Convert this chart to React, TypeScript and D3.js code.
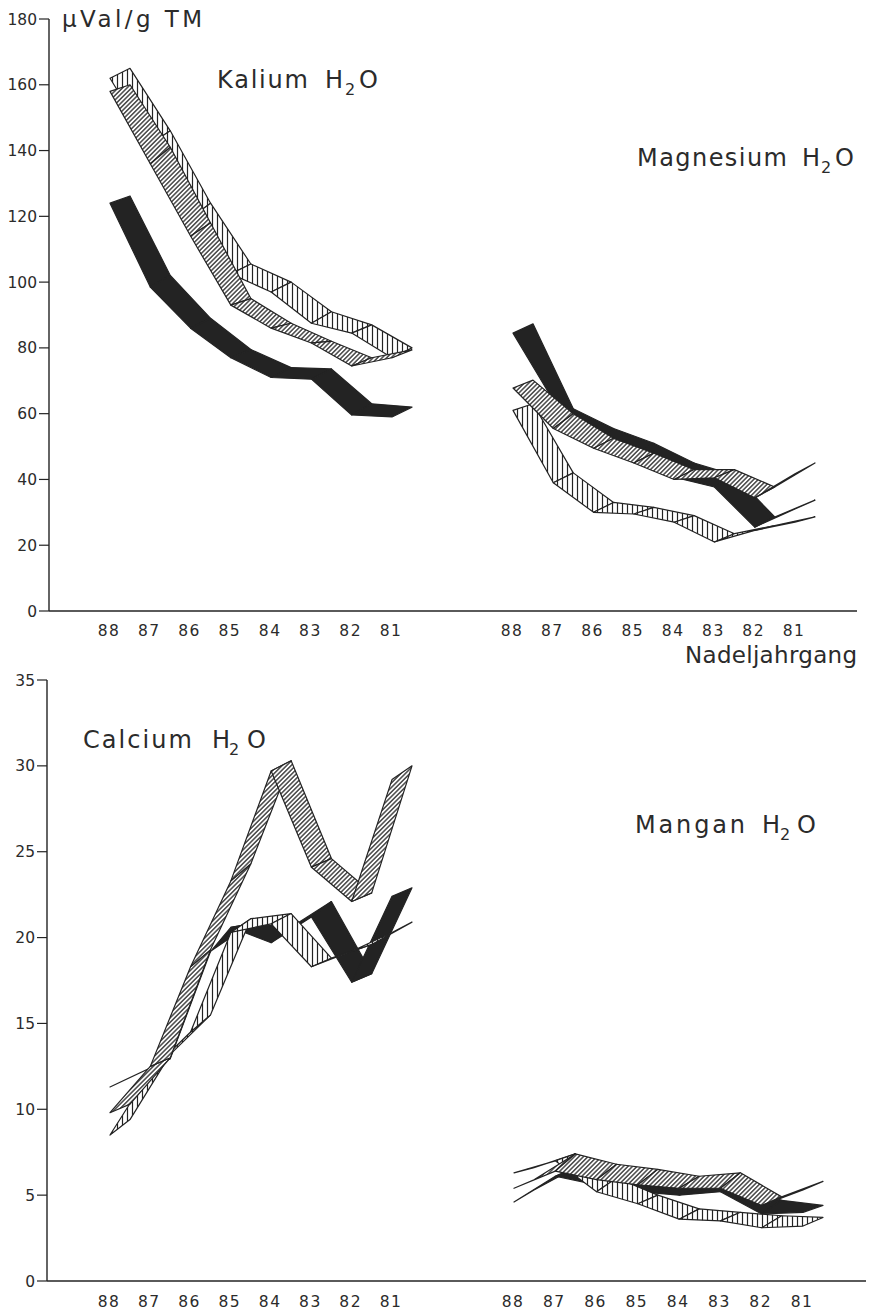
import React from 'react';
import * as d3 from 'd3';

// ---------- data ----------
const years = ['88', '87', '86', '85', '84', '83', '82', '81'];
const topTicks = [0, 20, 40, 60, 80, 100, 120, 140, 160, 180];
const bottomTicks = [0, 5, 10, 15, 20, 25, 30, 35];

// Kalium H2O (µVal/g TM) – lo: front edge, hi: rear (offset) edge
const kaliumBlackLo = [124, 98.5, 86, 77, 71, 70.5, 59.6, 59];
const kaliumBlackHi = [126.2, 102, 89, 79.5, 74, 73.6, 63, 62];
const kaliumVertLo = [162, 142, 119.5, 102.5, 97, 87.5, 84.5, 77];
const kaliumVertHi = [165, 146, 124, 105.5, 100, 91, 87, 80];
const kaliumDiagLo = [158, 136, 114, 93, 86, 81.5, 74.5, 77];
const kaliumDiagHi = [160, 141, 118, 95, 87.5, 82, 77, 79.4];

// Magnesium H2O
const mgBlackLo = [84.5, 64, 52, 47, 40.7, 37.7, 25.5, 31];
const mgBlackHi = [87.3, 61.5, 55.5, 51, 45, 41.3, 28.6, 33.7];
const mgVertLo = [61, 39, 30, 29.5, 27, 21, 24.5, 27];
const mgVertHi = [63, 42, 33, 31.5, 29, 23.5, 26, 28.6];
const mgDiagLo = [67.8, 55.5, 49.5, 45, 40, 40.5, 34.4, 41.7];
const mgDiagHi = [70.2, 60, 52.5, 48, 43, 43, 37.7, 45];

// Calcium H2O
const caBlackLo = [11.3, 12.4, 17.8, 20.6, 19.7, 21.2, 17.4, 22.4];
const caBlackHi = [11.85, 12.95, 19.2, 20.8, 20.6, 22.1, 17.9, 22.9];
const caVertLo = [8.5, 12.2, 14.5, 20.3, 20.8, 18.3, 19.2, 20.3];
const caVertHi = [9.4, 13.2, 15.5, 21.1, 21.4, 18.8, 19.6, 20.9];
const caDiagLo = [9.8, 12.5, 18.3, 23.3, 29.7, 24.1, 22.1, 29.2];
const caDiagHi = [10.3, 13, 19.3, 24.3, 30.3, 24.6, 22.6, 30];

// Mangan H2O
const mnBlackLo = [4.6, 6.1, 5.6, 5.2, 5.0, 5.2, 3.9, 4.0];
const mnBlackHi = [5.3, 6.6, 5.9, 5.6, 5.4, 5.6, 4.7, 4.4];
const mnVertLo = [6.3, 7.0, 5.2, 4.5, 3.6, 3.5, 3.1, 3.2];
const mnVertHi = [6.6, 7.4, 6.0, 5.0, 4.2, 4.0, 3.8, 3.7];
const mnDiagLo = [5.4, 6.4, 5.9, 5.6, 5.4, 5.4, 4.4, 5.3];
const mnDiagHi = [5.9, 7.4, 6.8, 6.5, 6.1, 6.3, 4.9, 5.8];

// ---------- style ----------
const INK = '#232323';
const TXT = '#2b2b2b';
const FONT = '"DejaVu Sans", "Liberation Sans", sans-serif';
const DX = 20;

function Ribbon({ lo, hi, fill, x, y }: { lo: number[]; hi: number[]; fill: string; x: any; y: any }) {
  const line = d3.line();
  const segs = [];
  for (let i = 0; i < years.length - 1; i++) {
    const a = years[i];
    const b = years[i + 1];
    const pts: [number, number][] = [
      [x(a), y(lo[i])],
      [x(b), y(lo[i + 1])],
      [x(b) + DX, y(hi[i + 1])],
      [x(a) + DX, y(hi[i])],
    ];
    segs.push(
      <path
        key={i}
        d={(line(pts) as string) + 'Z'}
        fill={fill}
        stroke={INK}
        strokeWidth={1.2}
        strokeLinejoin="round"
      />
    );
  }
  return <g>{segs}</g>;
}

function YAxis({ y, ticks, x0, xEnd }: { y: any; ticks: number[]; x0: number; xEnd: number }) {
  const [d0, d1] = y.domain();
  return (
    <g>
      <line x1={x0} x2={x0} y1={y(d1)} y2={y(d0)} stroke={INK} strokeWidth={1.4} />
      <line x1={x0} x2={xEnd} y1={y(d0)} y2={y(d0)} stroke={INK} strokeWidth={1.4} />
      {ticks.map((t) => (
        <g key={t}>
          <line x1={x0 - 10} x2={x0} y1={y(t)} y2={y(t)} stroke={INK} strokeWidth={1.2} />
          <text
            x={x0 - 12}
            y={y(t) + 5.5}
            textAnchor="end"
            fontSize={15.5}
            fontFamily={FONT}
            fill={TXT}
          >
            {t}
          </text>
        </g>
      ))}
    </g>
  );
}

function XLabels({ x, yPos }: { x: any; yPos: number }) {
  return (
    <g>
      {years.map((yr) => (
        <text
          key={yr}
          x={x(yr) - 1}
          y={yPos}
          textAnchor="middle"
          fontSize={15.5}
          letterSpacing={1.5}
          fontFamily={FONT}
          fill={TXT}
        >
          {yr}
        </text>
      ))}
    </g>
  );
}

function Title({
  word,
  x,
  y,
  len,
  hx,
  sx,
  ox,
}: {
  word: string;
  x: number;
  y: number;
  len: number;
  hx: number;
  sx: number;
  ox: number;
}) {
  return (
    <g fontFamily={FONT} fill={TXT}>
      <text x={x} y={y} fontSize={24} textLength={len} lengthAdjust="spacing">
        {word}
      </text>
      <text x={hx} y={y} fontSize={24}>H</text>
      <text x={sx} y={y + 7} fontSize={16}>2</text>
      <text x={ox} y={y} fontSize={24}>O</text>
    </g>
  );
}

export default function App() {
  const yTop = d3.scaleLinear().domain([0, 180]).range([611, 19]);
  const yBot = d3.scaleLinear().domain([0, 35]).range([1281, 680]);
  const xTL = d3.scalePoint().domain(years).range([110, 392]);
  const xTR = d3.scalePoint().domain(years).range([513, 795]);
  const xBL = d3.scalePoint().domain(years).range([110, 392]);
  const xBR = d3.scalePoint().domain(years).range([514, 803]);

  const vert = 'url(#vertHatch)';
  const diag = 'url(#diagHatch)';

  return (
    <svg
      width={870}
      height={1313}
      viewBox="0 0 870 1313"
      style={{ position: 'absolute', left: 0, top: 0, background: '#fff' }}
    >
      <defs>
        <pattern id="vertHatch" patternUnits="userSpaceOnUse" width={5} height={10}>
          <rect width={5} height={10} fill="#fff" />
          <line x1={2.5} x2={2.5} y1={0} y2={10} stroke={INK} strokeWidth={1.2} />
        </pattern>
        <pattern
          id="diagHatch"
          patternUnits="userSpaceOnUse"
          width={3.2}
          height={10}
          patternTransform="rotate(45)"
        >
          <rect width={3.2} height={10} fill="#fff" />
          <line x1={1.6} x2={1.6} y1={0} y2={10} stroke={INK} strokeWidth={1.25} />
        </pattern>
      </defs>
      <rect width={870} height={1313} fill="#fff" />

      {/* ---------- top panel ---------- */}
      <YAxis y={yTop} ticks={topTicks} x0={49} xEnd={857} />
      <XLabels x={xTL} yPos={636} />
      <XLabels x={xTR} yPos={636} />
      <text x={62} y={27} fontSize={23} fontFamily={FONT} fill={TXT} textLength={140} lengthAdjust="spacing">
        µVal/g TM
      </text>
      <text x={685} y={663} fontSize={23} fontFamily={FONT} fill={TXT} textLength={172} lengthAdjust="spacing">
        Nadeljahrgang
      </text>
      <Title word="Kalium" x={217} y={88} len={91} hx={325} sx={345} ox={359} />
      <Title word="Magnesium" x={637} y={166} len={150} hx={802} sx={821} ox={835} />

      <Ribbon lo={kaliumBlackLo} hi={kaliumBlackHi} fill={INK} x={xTL} y={yTop} />
      <Ribbon lo={kaliumVertLo} hi={kaliumVertHi} fill={vert} x={xTL} y={yTop} />
      <Ribbon lo={kaliumDiagLo} hi={kaliumDiagHi} fill={diag} x={xTL} y={yTop} />

      <Ribbon lo={mgBlackLo} hi={mgBlackHi} fill={INK} x={xTR} y={yTop} />
      <Ribbon lo={mgVertLo} hi={mgVertHi} fill={vert} x={xTR} y={yTop} />
      <Ribbon lo={mgDiagLo} hi={mgDiagHi} fill={diag} x={xTR} y={yTop} />

      {/* ---------- bottom panel ---------- */}
      <YAxis y={yBot} ticks={bottomTicks} x0={47} xEnd={866} />
      <XLabels x={xBL} yPos={1307} />
      <XLabels x={xBR} yPos={1307} />
      <Title word="Calcium" x={83} y={748} len={109} hx={212} sx={229} ox={247} />
      <Title word="Mangan" x={635} y={833} len={110} hx={762} sx={780} ox={797} />

      <Ribbon lo={caBlackLo} hi={caBlackHi} fill={INK} x={xBL} y={yBot} />
      <Ribbon lo={caVertLo} hi={caVertHi} fill={vert} x={xBL} y={yBot} />
      <Ribbon lo={caDiagLo} hi={caDiagHi} fill={diag} x={xBL} y={yBot} />

      <Ribbon lo={mnBlackLo} hi={mnBlackHi} fill={INK} x={xBR} y={yBot} />
      <Ribbon lo={mnVertLo} hi={mnVertHi} fill={vert} x={xBR} y={yBot} />
      <Ribbon lo={mnDiagLo} hi={mnDiagHi} fill={diag} x={xBR} y={yBot} />
    </svg>
  );
}
